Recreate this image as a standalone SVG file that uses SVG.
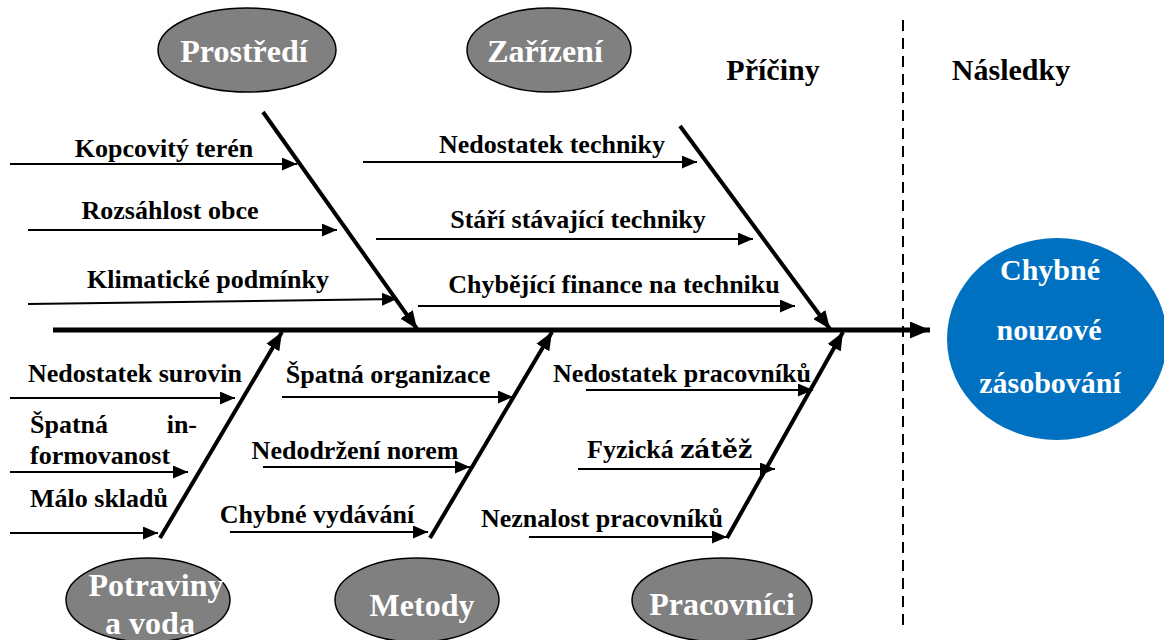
<svg xmlns="http://www.w3.org/2000/svg" width="1164" height="640" viewBox="0 0 1164 640">
<style>
text{font-family:"Liberation Serif","Times New Roman",serif;font-weight:bold;}
.lbl{font-size:26px;fill:#000;}
.hdr{font-size:30px;fill:#000;}
.cat{font-size:32px;fill:#fff;text-anchor:middle;}
.eff{font-size:30px;fill:#fff;text-anchor:middle;}
.m{text-anchor:middle;}
.ell{fill:#808080;stroke:#000;stroke-width:1.5;}
.sub{stroke:#000;stroke-width:2;fill:none;marker-end:url(#ah);}
.bone{stroke:#000;stroke-width:4;fill:none;marker-end:url(#bh);}
</style>
<defs>
<marker id="ah" markerUnits="userSpaceOnUse" markerWidth="15" markerHeight="13" refX="15" refY="6.5" orient="auto"><path d="M0,0 L15,6.5 L0,13 z" fill="#000"/></marker>
<marker id="bh" markerUnits="userSpaceOnUse" markerWidth="18" markerHeight="15" refX="18" refY="7.5" orient="auto"><path d="M0,0 L18,7.5 L0,15 z" fill="#000"/></marker>
<marker id="sh" markerUnits="userSpaceOnUse" markerWidth="20" markerHeight="17" refX="20" refY="8.5" orient="auto"><path d="M0,0 L20,8.5 L0,17 z" fill="#000"/></marker>
</defs>
<rect width="1164" height="640" fill="#fff"/>

<g id="divider">
<line x1="903" y1="20" x2="903" y2="632" stroke="#000" stroke-width="2" stroke-dasharray="11,7"/>
</g>
<g id="headers">
<text class="hdr m" x="773" y="80">Příčiny</text>
<text class="hdr m" x="1011" y="80">Následky</text>
</g>

<g id="connectors">
<line x1="53" y1="330" x2="930" y2="330" stroke="#000" stroke-width="5" marker-end="url(#sh)"/>
<line class="bone" x1="263" y1="112" x2="417" y2="329"/>
<line class="bone" x1="680" y1="126" x2="830" y2="329"/>
<line class="bone" x1="160" y1="538" x2="282" y2="332"/>
<line class="bone" x1="430" y1="538" x2="552" y2="332"/>
<line class="bone" x1="727" y1="538" x2="843" y2="332"/>

<line class="sub" x1="10" y1="164" x2="297" y2="164"/>
<line class="sub" x1="28" y1="230" x2="337" y2="230"/>
<line class="sub" x1="28" y1="304" x2="397" y2="299"/>
<line class="sub" x1="363" y1="162" x2="697" y2="162"/>
<line class="sub" x1="376" y1="239" x2="753" y2="239"/>
<line class="sub" x1="418" y1="306" x2="795" y2="306"/>

<line class="sub" x1="10" y1="398" x2="235" y2="398"/>
<line class="sub" x1="10" y1="472" x2="188" y2="472"/>
<line class="sub" x1="10" y1="533" x2="158" y2="533"/>
<line class="sub" x1="282" y1="397" x2="513" y2="397"/>
<line class="sub" x1="263" y1="467" x2="470" y2="467"/>
<line class="sub" x1="230" y1="532" x2="428" y2="532"/>
<line class="sub" x1="586" y1="390" x2="813" y2="390"/>
<line class="sub" x1="578" y1="469" x2="775" y2="469"/>
<line class="sub" x1="529" y1="537" x2="727" y2="537"/>
</g>

<g id="labels">
<text class="lbl m" x="164" y="157">Kopcovitý terén</text>
<text class="lbl m" x="170" y="219">Rozsáhlost obce</text>
<text class="lbl m" x="208" y="288">Klimatické podmínky</text>
<text class="lbl m" x="552" y="153">Nedostatek techniky</text>
<text class="lbl m" x="578" y="228">Stáří stávající techniky</text>
<text class="lbl m" x="614" y="293">Chybějící finance na techniku</text>
<text class="lbl m" x="135" y="382">Nedostatek surovin</text>
<text class="lbl" x="30" y="433">Špatná</text>
<text class="lbl" x="197" y="433" text-anchor="end">in-</text>
<text class="lbl" x="30" y="464">formovanost</text>
<text class="lbl" x="30" y="507">Málo skladů</text>
<text class="lbl m" x="388" y="383">Špatná organizace</text>
<text class="lbl m" x="355" y="459">Nedodržení norem</text>
<text class="lbl m" x="317" y="523">Chybné vydávání</text>
<text class="lbl m" x="682" y="382">Nedostatek pracovníků</text>
<text class="lbl" x="587" y="458">Fyzická <tspan style="font-family:'DejaVu Serif',serif;font-size:25px">zátěž</tspan></text>
<text class="lbl m" x="602" y="527">Neznalost pracovníků</text>
</g>

<g id="node-prostredi">
<ellipse class="ell" cx="247" cy="50" rx="89" ry="42"/>
<text class="cat" x="244" y="62">Prostředí</text>
</g>
<g id="node-zarizeni">
<ellipse class="ell" cx="549" cy="50" rx="82" ry="42"/>
<text class="cat" x="545" y="62">Zařízení</text>
</g>
<g id="node-potraviny">
<ellipse class="ell" cx="148" cy="600" rx="82" ry="42"/>
<text class="cat" x="156" y="596">Potraviny</text>
<text class="cat" x="150" y="634">a voda</text>
</g>
<g id="node-metody">
<ellipse class="ell" cx="417" cy="600" rx="82" ry="42"/>
<text class="cat" x="422" y="616">Metody</text>
</g>
<g id="node-pracovnici">
<ellipse class="ell" cx="722" cy="600" rx="90" ry="42"/>
<text class="cat" x="722" y="615">Pracovníci</text>
</g>
<g id="node-effect">
<ellipse cx="1057" cy="339" rx="110" ry="101" fill="#0070C0"/>
<text class="eff" x="1050" y="280">Chybné</text>
<text class="eff" x="1049" y="340">nouzové</text>
<text class="eff" x="1050" y="393">zásobování</text>
</g>
</svg>
